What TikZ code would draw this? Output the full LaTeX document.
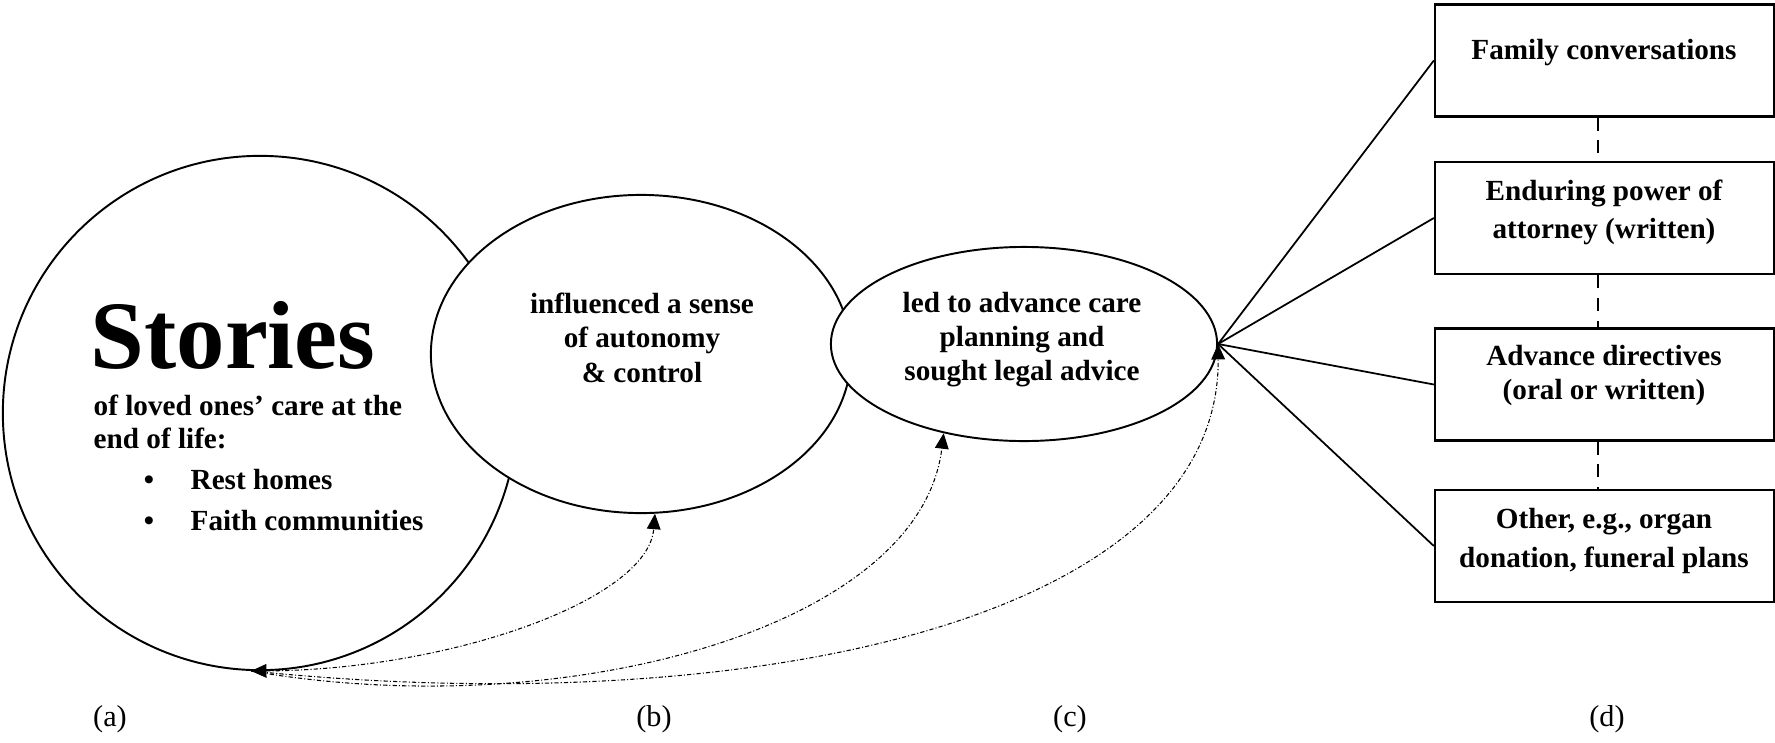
\documentclass[tikz,border=0pt]{standalone}
\usepackage{fontspec}
\setmainfont{Liberation Serif}
\usetikzlibrary{arrows.meta,shapes.geometric}
\begin{document}
\begin{tikzpicture}[x=0.01cm,y=-0.01cm,
  outl/.style={draw=black,line width=0.55pt,fill=white,inner sep=0pt},
  boxnode/.style={draw=black,line width=0.6pt,fill=white,minimum width=3.39cm,minimum height=1.12cm,inner sep=0pt},
  txt/.style={font=\fontsize{8.3}{10}\selectfont\bfseries,inner sep=0pt,anchor=base},
  ltxt/.style={txt,anchor=base west},
  lbl/.style={font=\fontsize{8.6}{10}\selectfont,inner sep=0pt,anchor=base},
  flow/.style={line width=0.3pt,black,dash pattern=on 1.2pt off 0.6pt on 0.3pt off 0.6pt},
  tipA/.style={-{Triangle[length=4.4pt,width=3.9pt]}},
  tipB/.style={{Triangle[length=4.4pt,width=3.9pt]}-{Triangle[length=4.4pt,width=3.9pt]}},
  fan/.style={line width=0.5pt},
  link/.style={line width=0.6pt,dash pattern=on 3.7pt off 2.8pt}]
\useasboundingbox (0,0) rectangle (1775,742);

% main shapes
\node[outl,circle,minimum size=5.14cm] (a) at (260,413) {};
\node[outl,ellipse,minimum width=4.2cm,minimum height=3.18cm] (b) at (641,354) {};
\node[outl,ellipse,minimum width=3.86cm,minimum height=1.94cm] (c) at (1024,344) {};

% boxes
\node[boxnode] (d1) at (1604.5,60.5) {};
\node[boxnode] (d2) at (1604.5,218) {};
\node[boxnode] (d3) at (1604.5,384.5) {};
\node[boxnode] (d4) at (1604.5,546) {};

% fan lines
\draw[fan] (c.east) -- (d1.west);
\draw[fan] (c.east) -- (d2.west);
\draw[fan] (c.east) -- (d3.west);
\draw[fan] (c.east) -- (d4.west);

% dashed links between boxes
\coordinate (dx) at (1598,0);
\draw[link] (d1.south -| dx) -- (d2.north -| dx);
\draw[link] (d2.south -| dx) -- (d3.north -| dx);
\draw[link] (d3.south -| dx) -- (d4.north -| dx);

% circle text
\node[inner sep=0pt,anchor=base west,font=\fontsize{27.5}{30}\selectfont\bfseries] (st) at (90,368) {Stories};
\node[ltxt] (l1) at (93,415) {of loved ones’ care at the};
\node[ltxt] (l2) at (93,448) {end of life:};
\node[txt] (bu1) at (149,489) {•};
\node[ltxt] (r1) at (190,489) {Rest homes};
\node[txt] (bu2) at (149,530) {•};
\node[ltxt] (r2) at (190,530) {Faith communities};

% ellipse b text
\node[txt] (b1) at (642,313) {influenced a sense};
\node[txt] (b2) at (642,347) {of autonomy};
\node[txt] (b3) at (642,382) {\& control};

% ellipse c text
\node[txt] (c1) at (1022,312) {led to advance care};
\node[txt] (c2) at (1022,346) {planning and};
\node[txt] (c3) at (1022,380) {sought legal advice};

% box texts
\node[txt] (t1) at (1604,59) {Family conversations};
\node[txt] (t2a) at (1604,200) {Enduring power of};
\node[txt] (t2b) at (1604,238) {attorney (written)};
\node[txt] (t3a) at (1604,365) {Advance directives};
\node[txt] (t3b) at (1604,399) {(oral or written)};
\node[txt] (t4a) at (1604,528) {Other, e.g., organ};
\node[txt] (t4b) at (1604,567) {donation, funeral plans};

% labels
\node[lbl] (la) at (110,726) {(a)};
\node[lbl] (lb) at (654,726) {(b)};
\node[lbl] (lc) at (1070,726) {(c)};
\node[lbl] (ld) at (1607,726) {(d)};

% feedback curves
\draw[flow,tipB] (a.-92) .. controls (450,670) and (648,600) .. (b.-85);
\draw[flow,tipA] (a.-92) .. controls (560,725) and (920,630) .. (c.-132);
\draw[flow,tipA] (a.-92) .. controls (750,722) and (1220,620) .. (c.east);
\end{tikzpicture}
\end{document}
